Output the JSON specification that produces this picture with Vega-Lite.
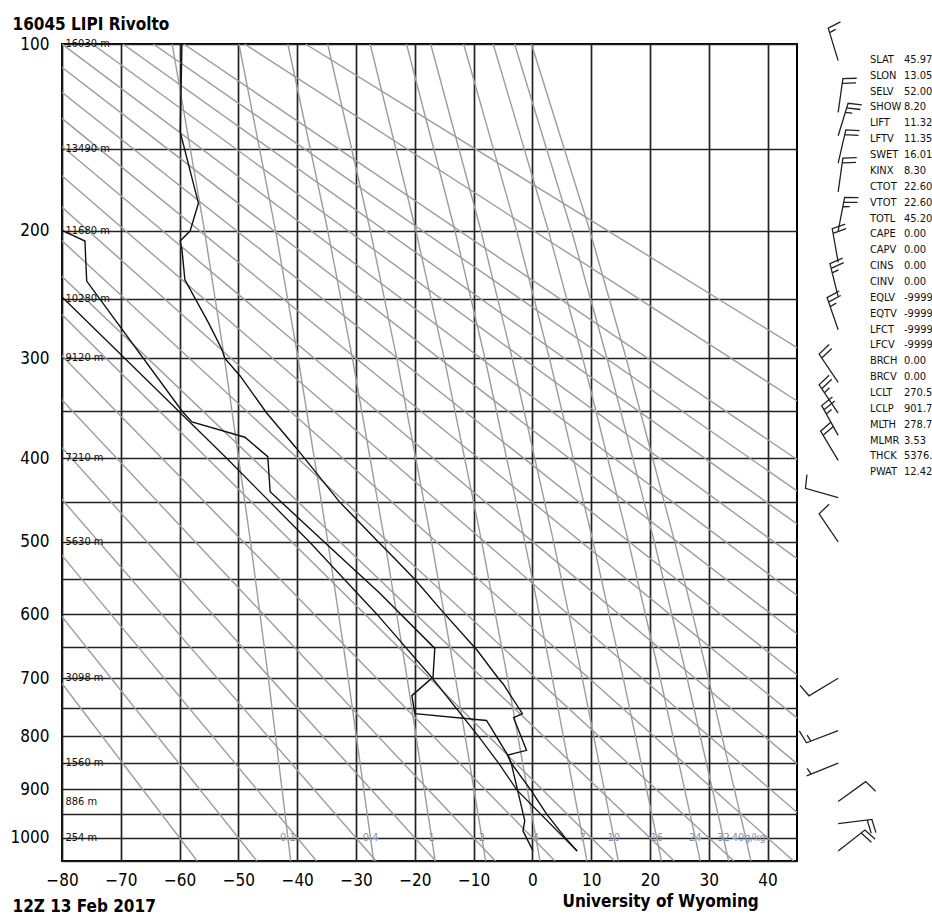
{
  "$schema": "https://vega.github.io/schema/vega-lite/v6.json",
  "width": 735,
  "height": 817,
  "autosize": {"type": "none"},
  "padding": {"left": 62, "top": 44, "right": 135, "bottom": 55},
  "background": "white",
  "config": {
    "view": {"stroke": "#000", "strokeWidth": 2},
    "font": "Liberation Sans Narrow, DejaVu Sans Condensed, Liberation Sans, sans-serif"
  },
  "datasets": {
    "temp": [
      {"p": 1028, "T": 7.6}, {"p": 1000, "T": 5.6}, {"p": 950, "T": 2.4}, {"p": 903, "T": -0.2},
      {"p": 850, "T": -3.6}, {"p": 835, "T": -4.2}, {"p": 826, "T": -1.0}, {"p": 767, "T": -3.2},
      {"p": 760, "T": -1.7}, {"p": 709, "T": -5.0}, {"p": 700, "T": -5.8}, {"p": 655, "T": -9.4},
      {"p": 597, "T": -15.2}, {"p": 550, "T": -20.0}, {"p": 511, "T": -24.8}, {"p": 500, "T": -26.2},
      {"p": 450, "T": -32.8}, {"p": 389, "T": -40.1}, {"p": 352, "T": -45.2}, {"p": 316, "T": -49.7},
      {"p": 300, "T": -52.3}, {"p": 292, "T": -52.8}, {"p": 269, "T": -55.1}, {"p": 235, "T": -59.1},
      {"p": 213, "T": -59.6}, {"p": 207, "T": -59.9}, {"p": 200, "T": -58.2}, {"p": 182, "T": -56.8},
      {"p": 141, "T": -59.9}, {"p": 100, "T": -59.6}
    ],
    "dewp": [
      {"p": 1028, "T": 0.1}, {"p": 985, "T": -1.6}, {"p": 964, "T": -1.3}, {"p": 850, "T": -3.6},
      {"p": 835, "T": -4.2}, {"p": 772, "T": -7.8}, {"p": 760, "T": -20.0}, {"p": 729, "T": -20.5},
      {"p": 698, "T": -16.9}, {"p": 652, "T": -16.6}, {"p": 570, "T": -25.9}, {"p": 500, "T": -35.4},
      {"p": 438, "T": -44.6}, {"p": 398, "T": -45.0}, {"p": 377, "T": -48.9}, {"p": 361, "T": -57.9},
      {"p": 350, "T": -59.6}, {"p": 236, "T": -75.8}, {"p": 207, "T": -76.1}, {"p": 200, "T": -79.8},
      {"p": 190, "T": -86.0}
    ],
    "parcel": [
      {"p": 1028, "T": 7.6}, {"p": 901.7, "T": -2.65}, {"p": 850, "T": -5.75}, {"p": 800, "T": -9.2},
      {"p": 700, "T": -17.0}, {"p": 600, "T": -26.45}, {"p": 500, "T": -37.9}, {"p": 400, "T": -51.95},
      {"p": 300, "T": -69.3}, {"p": 250, "T": -79.6}, {"p": 230, "T": -84.2}
    ],
    "dry": [
      {"th": 213, "p": 100, "T": -162.82}, {"th": 213, "p": 1050, "T": -57.01},
      {"th": 223, "p": 100, "T": -157.65}, {"th": 223, "p": 1050, "T": -46.86},
      {"th": 233, "p": 100, "T": -152.47}, {"th": 233, "p": 1050, "T": -36.72},
      {"th": 243, "p": 100, "T": -147.29}, {"th": 243, "p": 1050, "T": -26.58},
      {"th": 253, "p": 100, "T": -142.12}, {"th": 253, "p": 1050, "T": -16.44},
      {"th": 263, "p": 100, "T": -136.94}, {"th": 263, "p": 1050, "T": -6.30},
      {"th": 273, "p": 100, "T": -131.76}, {"th": 273, "p": 1050, "T": 3.84},
      {"th": 283, "p": 100, "T": -126.59}, {"th": 283, "p": 1050, "T": 13.98},
      {"th": 293, "p": 100, "T": -121.41}, {"th": 293, "p": 1050, "T": 24.12},
      {"th": 303, "p": 100, "T": -116.24}, {"th": 303, "p": 1050, "T": 34.26},
      {"th": 313, "p": 100, "T": -111.06}, {"th": 313, "p": 1050, "T": 44.40},
      {"th": 323, "p": 100, "T": -105.88}, {"th": 323, "p": 1050, "T": 54.54},
      {"th": 333, "p": 100, "T": -100.71}, {"th": 333, "p": 1050, "T": 64.68},
      {"th": 343, "p": 100, "T": -95.53}, {"th": 343, "p": 1050, "T": 74.82},
      {"th": 353, "p": 100, "T": -90.36}, {"th": 353, "p": 1050, "T": 84.96},
      {"th": 363, "p": 100, "T": -85.18}, {"th": 363, "p": 1050, "T": 95.10},
      {"th": 373, "p": 100, "T": -80.00}, {"th": 373, "p": 1050, "T": 105.24},
      {"th": 383, "p": 100, "T": -74.83}, {"th": 383, "p": 1050, "T": 115.38},
      {"th": 393, "p": 100, "T": -69.65}, {"th": 393, "p": 1050, "T": 125.52},
      {"th": 403, "p": 100, "T": -64.48}, {"th": 403, "p": 1050, "T": 135.66},
      {"th": 413, "p": 100, "T": -59.30}, {"th": 413, "p": 1050, "T": 145.80},
      {"th": 433, "p": 100, "T": -48.95}, {"th": 433, "p": 1050, "T": 166.08},
      {"th": 453, "p": 100, "T": -38.60}, {"th": 453, "p": 1050, "T": 186.36}
    ],
    "mix": [
      {"w": 0.1, "p": 100, "T": -61.27}, {"w": 0.1, "p": 200, "T": -55.76}, {"w": 0.1, "p": 300, "T": -52.37}, {"w": 0.1, "p": 500, "T": -47.94}, {"w": 0.1, "p": 700, "T": -44.90}, {"w": 0.1, "p": 1000, "T": -41.57}, {"w": 0.1, "p": 1050, "T": -41.11},
      {"w": 0.4, "p": 100, "T": -49.91}, {"w": 0.4, "p": 200, "T": -43.67}, {"w": 0.4, "p": 300, "T": -39.84}, {"w": 0.4, "p": 500, "T": -34.79}, {"w": 0.4, "p": 700, "T": -31.33}, {"w": 0.4, "p": 1000, "T": -27.53}, {"w": 0.4, "p": 1050, "T": -27.00},
      {"w": 1, "p": 100, "T": -41.59}, {"w": 1, "p": 200, "T": -34.80}, {"w": 1, "p": 300, "T": -30.61}, {"w": 1, "p": 500, "T": -25.09}, {"w": 1, "p": 700, "T": -21.30}, {"w": 1, "p": 1000, "T": -17.13}, {"w": 1, "p": 1050, "T": -16.55},
      {"w": 2, "p": 100, "T": -34.82}, {"w": 2, "p": 200, "T": -27.56}, {"w": 2, "p": 300, "T": -23.07}, {"w": 2, "p": 500, "T": -17.15}, {"w": 2, "p": 700, "T": -13.07}, {"w": 2, "p": 1000, "T": -8.58}, {"w": 2, "p": 1050, "T": -7.96},
      {"w": 4, "p": 100, "T": -27.59}, {"w": 4, "p": 200, "T": -19.81}, {"w": 4, "p": 300, "T": -15.00}, {"w": 4, "p": 500, "T": -8.62}, {"w": 4, "p": 700, "T": -4.23}, {"w": 4, "p": 1000, "T": 0.61}, {"w": 4, "p": 1050, "T": 1.29},
      {"w": 7, "p": 100, "T": -21.41}, {"w": 7, "p": 200, "T": -13.17}, {"w": 7, "p": 300, "T": -8.06}, {"w": 7, "p": 500, "T": -1.29}, {"w": 7, "p": 700, "T": 3.39}, {"w": 7, "p": 1000, "T": 8.55}, {"w": 7, "p": 1050, "T": 9.27},
      {"w": 10, "p": 100, "T": -17.30}, {"w": 10, "p": 200, "T": -8.75}, {"w": 10, "p": 300, "T": -3.43}, {"w": 10, "p": 500, "T": 3.61}, {"w": 10, "p": 700, "T": 8.48}, {"w": 10, "p": 1000, "T": 13.85}, {"w": 10, "p": 1050, "T": 14.61},
      {"w": 16, "p": 100, "T": -11.69}, {"w": 16, "p": 200, "T": -2.69}, {"w": 16, "p": 300, "T": 2.90}, {"w": 16, "p": 500, "T": 10.32}, {"w": 16, "p": 700, "T": 15.46}, {"w": 16, "p": 1000, "T": 21.14}, {"w": 16, "p": 1050, "T": 21.94},
      {"w": 24, "p": 100, "T": -6.67}, {"w": 24, "p": 200, "T": 2.72}, {"w": 24, "p": 300, "T": 8.57}, {"w": 24, "p": 500, "T": 16.35}, {"w": 24, "p": 700, "T": 21.74}, {"w": 24, "p": 1000, "T": 27.70}, {"w": 24, "p": 1050, "T": 28.54},
      {"w": 32, "p": 100, "T": -3.03}, {"w": 32, "p": 200, "T": 6.66}, {"w": 32, "p": 300, "T": 12.70}, {"w": 32, "p": 500, "T": 20.74}, {"w": 32, "p": 700, "T": 26.32}, {"w": 32, "p": 1000, "T": 32.49}, {"w": 32, "p": 1050, "T": 33.36},
      {"w": 40, "p": 100, "T": -0.16}, {"w": 40, "p": 200, "T": 9.77}, {"w": 40, "p": 300, "T": 15.96}, {"w": 40, "p": 500, "T": 24.21}, {"w": 40, "p": 700, "T": 29.93}, {"w": 40, "p": 1000, "T": 36.28}, {"w": 40, "p": 1050, "T": 37.16}
    ],
    "mixlab": [
      {"lab": "0.1", "T": -41.57}, {"lab": "0.4", "T": -27.53}, {"lab": "1", "T": -17.13},
      {"lab": "2", "T": -8.58}, {"lab": "4", "T": 0.61}, {"lab": "7", "T": 8.55},
      {"lab": "10", "T": 13.85}, {"lab": "16", "T": 21.14}, {"lab": "24", "T": 27.70},
      {"lab": "32", "T": 32.49}, {"lab": "40g/kg", "T": 36.8}
    ],
    "hgt": [
      {"p": 100, "h": "16030 m"}, {"p": 150, "h": "13490 m"}, {"p": 200, "h": "11680 m"},
      {"p": 250, "h": "10280 m"}, {"p": 300, "h": "9120 m"}, {"p": 400, "h": "7210 m"},
      {"p": 500, "h": "5630 m"}, {"p": 700, "h": "3098 m"}, {"p": 850, "h": "1560 m"},
      {"p": 925, "h": "886 m"}, {"p": 1000, "h": "254 m"}
    ],
    "wind": [
      {"p": 107, "dir": 343, "spd": 15}, {"p": 131, "dir": 8, "spd": 20}, {"p": 143, "dir": 17, "spd": 25},
      {"p": 158, "dir": 13, "spd": 20}, {"p": 175, "dir": 8, "spd": 20}, {"p": 200, "dir": 11, "spd": 25},
      {"p": 222, "dir": 350, "spd": 20}, {"p": 248, "dir": 346, "spd": 25}, {"p": 275, "dir": 341, "spd": 25},
      {"p": 322, "dir": 326, "spd": 20}, {"p": 352, "dir": 326, "spd": 25}, {"p": 375, "dir": 331, "spd": 25},
      {"p": 402, "dir": 329, "spd": 20}, {"p": 445, "dir": 286, "spd": 10}, {"p": 500, "dir": 326, "spd": 10},
      {"p": 700, "dir": 239, "spd": 10}, {"p": 790, "dir": 249, "spd": 15}, {"p": 850, "dir": 248, "spd": 5},
      {"p": 925, "dir": 54, "spd": 10}, {"p": 970, "dir": 83, "spd": 20}, {"p": 1028, "dir": 52, "spd": 20}
    ],
    "stats": [
      {"row": 0, "key": "SLAT", "val": "45.97"}, {"row": 1, "key": "SLON", "val": "13.05"},
      {"row": 2, "key": "SELV", "val": "52.00"}, {"row": 3, "key": "SHOW", "val": "8.20"},
      {"row": 4, "key": "LIFT", "val": "11.32"}, {"row": 5, "key": "LFTV", "val": "11.35"},
      {"row": 6, "key": "SWET", "val": "16.01"}, {"row": 7, "key": "KINX", "val": "8.30"},
      {"row": 8, "key": "CTOT", "val": "22.60"}, {"row": 9, "key": "VTOT", "val": "22.60"},
      {"row": 10, "key": "TOTL", "val": "45.20"}, {"row": 11, "key": "CAPE", "val": "0.00"},
      {"row": 12, "key": "CAPV", "val": "0.00"}, {"row": 13, "key": "CINS", "val": "0.00"},
      {"row": 14, "key": "CINV", "val": "0.00"}, {"row": 15, "key": "EQLV", "val": "-9999.00"},
      {"row": 16, "key": "EQTV", "val": "-9999.00"}, {"row": 17, "key": "LFCT", "val": "-9999.00"},
      {"row": 18, "key": "LFCV", "val": "-9999.00"}, {"row": 19, "key": "BRCH", "val": "0.00"},
      {"row": 20, "key": "BRCV", "val": "0.00"}, {"row": 21, "key": "LCLT", "val": "270.50"},
      {"row": 22, "key": "LCLP", "val": "901.72"}, {"row": 23, "key": "MLTH", "val": "278.72"},
      {"row": 24, "key": "MLMR", "val": "3.53"}, {"row": 25, "key": "THCK", "val": "5376.00"},
      {"row": 26, "key": "PWAT", "val": "12.42"}
    ]
  },
  "layer": [
    {
      "layer": [
        {
          "data": {"name": "dry"},
          "mark": {"type": "line", "color": "#9c9c9c", "strokeWidth": 1.4, "clip": true},
          "encoding": {
            "x": {
              "field": "T", "type": "quantitative",
              "scale": {"domain": [-80, 45], "nice": false, "zero": false},
              "axis": {
                "values": [-80, -75, -70, -65, -60, -55, -50, -45, -40, -35, -30, -25, -20, -15, -10, -5, 0, 5, 10, 15, 20, 25, 30, 35, 40, 45],
                "format": "d",
                "labelExpr": "datum.value % 10 === 0 && datum.value < 45 ? datum.label : ''",
                "labelFlush": false, "labelOverlap": false,
                "grid": true, "gridColor": "#222", "gridWidth": 1.7, "gridOpacity": 1,
                "ticks": false, "domain": false,
                "labelFontSize": 17, "labelColor": "#000", "labelPadding": 11,
                "title": "University of Wyoming", "titleX": 500, "titleY": 45,
                "titleAlign": "left", "titleAnchor": "start", "titleBaseline": "alphabetic",
                "titleFontSize": 17, "titleFontWeight": "bold", "titleColor": "#000"
              }
            },
            "y": {
              "field": "p", "type": "quantitative",
              "scale": {"type": "pow", "exponent": 0.286, "domain": [100, 1050], "reverse": true, "nice": false, "zero": false},
              "axis": {
                "values": [100, 150, 200, 250, 300, 350, 400, 450, 500, 550, 600, 650, 700, 750, 800, 850, 900, 950, 1000, 1050],
                "format": "d",
                "labelExpr": "datum.value % 100 === 0 && datum.value <= 1000 ? datum.label : ''",
                "labelFlush": false, "labelOverlap": false,
                "grid": true, "gridColor": "#222", "gridWidth": 1.7, "gridOpacity": 1,
                "ticks": false, "domain": false,
                "labelFontSize": 17, "labelColor": "#000", "labelPadding": 13,
                "title": "16045 LIPI Rivolto", "titleAngle": 0, "titleX": -50, "titleY": -15,
                "titleAlign": "left", "titleAnchor": "start", "titleBaseline": "alphabetic",
                "titleFontSize": 17, "titleFontWeight": "bold", "titleColor": "#000"
              }
            },
            "detail": {"field": "th", "type": "nominal"},
            "order": {"field": "p", "type": "quantitative"}
          }
        },
        {
          "data": {"name": "mix"},
          "mark": {"type": "line", "color": "#9c9c9c", "strokeWidth": 1.4, "clip": true},
          "encoding": {
            "x": {"field": "T", "type": "quantitative"},
            "y": {"field": "p", "type": "quantitative"},
            "detail": {"field": "w", "type": "nominal"},
            "order": {"field": "p", "type": "quantitative"}
          }
        },
        {
          "data": {"name": "mixlab"},
          "mark": {"type": "text", "color": "#8293aa", "fontSize": 11, "align": "center", "baseline": "middle"},
          "encoding": {
            "x": {"field": "T", "type": "quantitative"},
            "y": {"datum": 1000},
            "text": {"field": "lab"}
          }
        },
        {
          "data": {"name": "hgt"},
          "mark": {"type": "text", "color": "#111", "fontSize": 11, "align": "left", "baseline": "middle"},
          "encoding": {
            "x": {"datum": -79.4},
            "y": {"field": "p", "type": "quantitative"},
            "text": {"field": "h"}
          }
        },
        {
          "data": {"name": "parcel"},
          "mark": {"type": "line", "color": "#111", "strokeWidth": 1.3, "clip": true},
          "encoding": {
            "x": {"field": "T", "type": "quantitative"},
            "y": {"field": "p", "type": "quantitative"},
            "order": {"field": "p", "type": "quantitative"}
          }
        },
        {
          "data": {"name": "dewp"},
          "mark": {"type": "line", "color": "#111", "strokeWidth": 1.4, "clip": true},
          "encoding": {
            "x": {"field": "T", "type": "quantitative"},
            "y": {"field": "p", "type": "quantitative"},
            "order": {"field": "p", "type": "quantitative"}
          }
        },
        {
          "data": {"name": "temp"},
          "mark": {"type": "line", "color": "#111", "strokeWidth": 1.4, "clip": true},
          "encoding": {
            "x": {"field": "T", "type": "quantitative"},
            "y": {"field": "p", "type": "quantitative"},
            "order": {"field": "p", "type": "quantitative"}
          }
        },
        {
          "data": {"name": "wind"},
          "mark": {"type": "point", "filled": false, "color": "#222", "strokeWidth": 1.3, "size": 4624, "opacity": 1, "clip": false},
          "encoding": {
            "x": {"datum": 52},
            "y": {"field": "p", "type": "quantitative"},
            "shape": {
              "field": "spd", "type": "ordinal", "legend": null,
              "scale": {
                "domain": [5, 10, 15, 20, 25, 30],
                "range": [
                  "M0,0L0,-1M0,-0.86L0.2,-0.9",
                  "M0,0L0,-1L0.4,-1.07",
                  "M0,0L0,-1L0.4,-1.07M0,-0.86L0.2,-0.9",
                  "M0,0L0,-1L0.4,-1.07M0,-0.86L0.4,-0.93",
                  "M0,0L0,-1L0.4,-1.07M0,-0.86L0.4,-0.93M0,-0.72L0.2,-0.76",
                  "M0,0L0,-1L0.4,-1.07M0,-0.86L0.4,-0.93M0,-0.72L0.4,-0.79"
                ]
              }
            },
            "angle": {"field": "dir", "type": "quantitative", "scale": null}
          }
        }
      ]
    },
    {
      "data": {"name": "stats"},
      "encoding": {
        "y": {
          "field": "row", "type": "quantitative",
          "scale": {"domain": [-1, 50.5], "reverse": true, "nice": false, "zero": false},
          "axis": {
            "orient": "right", "labels": false, "ticks": false, "domain": false, "grid": false,
            "title": "12Z 13 Feb 2017", "titleAngle": 0, "titleX": -785, "titleY": 867,
            "titleAlign": "left", "titleAnchor": "start", "titleBaseline": "alphabetic",
            "titleFontSize": 17, "titleFontWeight": "bold", "titleColor": "#000"
          }
        }
      },
      "layer": [
        {
          "mark": {"type": "text", "align": "left", "baseline": "middle", "fontSize": 11, "color": "#111", "clip": false},
          "encoding": {"x": {"datum": 57.4}, "text": {"field": "key"}}
        },
        {
          "mark": {"type": "text", "align": "left", "baseline": "middle", "fontSize": 11, "color": "#111", "clip": false},
          "encoding": {"x": {"datum": 63.2}, "text": {"field": "val"}}
        }
      ]
    }
  ],
  "resolve": {"scale": {"y": "independent"}}
}
